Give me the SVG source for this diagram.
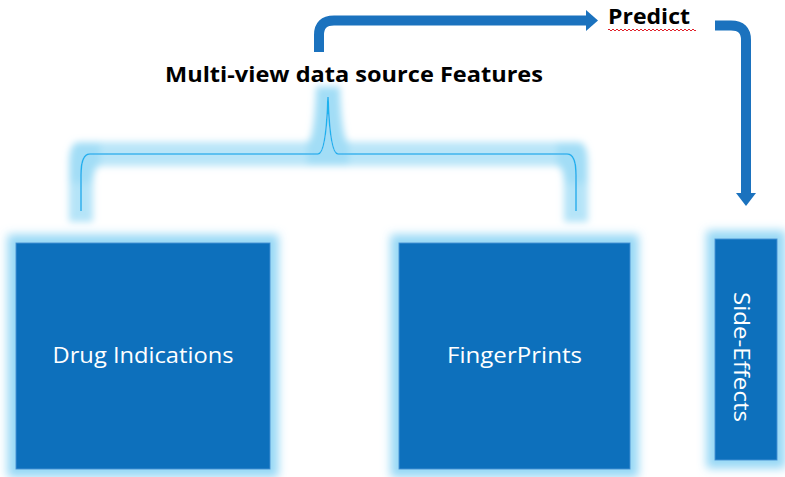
<svg xmlns="http://www.w3.org/2000/svg" width="785" height="477" viewBox="0 0 785 477">
<style>
.box{fill:#1070bc;stroke:#3d8fd3;stroke-width:1}
.lbl{font-family:"Open Sans","Liberation Sans",Arial,sans-serif;font-size:22px;fill:#ffffff}
.ttl{font-family:"Open Sans","Liberation Sans",Arial,sans-serif;font-size:21px;font-weight:bold;fill:#000000}
.arr{fill:none;stroke:#1b72be;stroke-width:10}
</style>
<defs>
<filter id="glow" x="-30%" y="-30%" width="160%" height="160%">
<feMorphology in="SourceAlpha" operator="dilate" radius="8" result="d"/>
<feGaussianBlur in="d" stdDeviation="5" result="b"/>
<feFlood flood-color="#92d6f5" flood-opacity="0.95"/>
<feComposite in2="b" operator="in" result="g"/>
<feMerge><feMergeNode in="g"/><feMergeNode in="SourceGraphic"/></feMerge>
</filter>
<filter id="bglow" x="-10%" y="-40%" width="120%" height="180%">
<feMorphology in="SourceAlpha" operator="dilate" radius="11" result="d"/>
<feGaussianBlur in="d" stdDeviation="3.5" result="b"/>
<feFlood flood-color="#a2ddf6" flood-opacity="1"/>
<feComposite in2="b" operator="in" result="g"/>
<feMerge><feMergeNode in="g"/><feMergeNode in="SourceGraphic"/></feMerge>
</filter>
</defs>
<g id="connectors">
<path class="arr" d="M319,52 V35 Q319,20.5 334,20.5 H588"/>
<polygon points="586,10 598,20.5 586,31" fill="#1b72be"/>
<path class="arr" d="M715,25.5 H731 Q746,25.5 746,40 V194"/>
<polygon points="736,193 756,193 746,206" fill="#1b72be"/>
<path id="brace" filter="url(#bglow)" fill="none" stroke="#1fb2ee" stroke-width="1.6" d="M81,211 V175 Q81,154 90,154 H318 Q326,154 328,97 Q330,154 338,154 H567 Q576,154 576,175 V211"/>
</g>
<g id="title">
<text class="ttl" x="165" y="82" textLength="378" lengthAdjust="spacingAndGlyphs">Multi-view data source Features</text>
</g>
<g id="predict">
<text class="ttl" x="608" y="24" textLength="82" lengthAdjust="spacingAndGlyphs">Predict</text>
<path fill="none" stroke="#e0202a" stroke-width="1" d="M608,30 q1,-2 2,0 t2,0 t2,0 t2,0 t2,0 t2,0 t2,0 t2,0 t2,0 t2,0 t2,0 t2,0 t2,0 t2,0 t2,0 t2,0 t2,0 t2,0 t2,0 t2,0 t2,0 t2,0 t2,0 t2,0 t2,0 t2,0 t2,0 t2,0 t2,0 t2,0 t2,0 t2,0 t2,0 t2,0 t2,0 t2,0 t2,0 t2,0 t2,0 t2,0 t2,0 t2,0 t2,0 t2,0"/>
</g>
<g id="drug-indications">
<rect class="box" x="16" y="243" width="254" height="226" filter="url(#glow)"/>
<text class="lbl" x="143" y="363" text-anchor="middle" textLength="181" lengthAdjust="spacingAndGlyphs">Drug Indications</text>
</g>
<g id="fingerprints">
<rect class="box" x="399" y="243" width="231" height="226" filter="url(#glow)"/>
<text class="lbl" x="514.5" y="363" text-anchor="middle" textLength="135" lengthAdjust="spacingAndGlyphs">FingerPrints</text>
</g>
<g id="side-effects">
<rect class="box" x="715" y="239" width="62" height="221" filter="url(#glow)"/>
<text class="lbl" transform="translate(734,357) rotate(90)" x="0" y="0" text-anchor="middle" textLength="130" lengthAdjust="spacingAndGlyphs">Side-Effects</text>
</g>
</svg>
